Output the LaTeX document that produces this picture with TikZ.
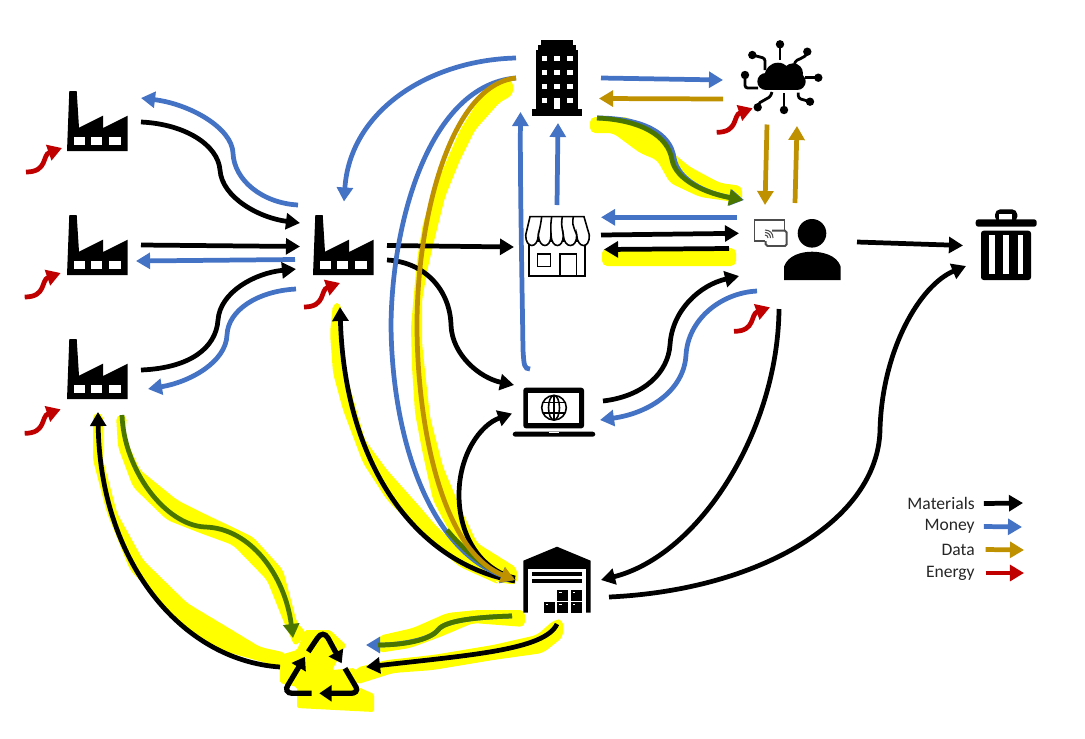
\documentclass[tikz,border=0pt]{standalone}
\usepackage{fontspec}
\setmainfont{Carlito}
\usetikzlibrary{arrows.meta}
\definecolor{matblack}{HTML}{000000}
\definecolor{moneyblue}{HTML}{4472C4}
\definecolor{datagold}{HTML}{BF9000}
\definecolor{energyred}{HTML}{C00000}
\definecolor{hlyellow}{HTML}{FFFF00}
\definecolor{hlgreen}{HTML}{4A7600}
\tikzset{
  flow/.style={line width=2.7pt, -{Triangle[length=8pt,width=9pt]}},
  materials/.style={flow, draw=matblack},
  money/.style={flow, draw=moneyblue},
  data/.style={flow, draw=datagold},
  energy/.style={flow, draw=energyred},
  moneyhl/.style={flow, draw=hlgreen},
  moneyline/.style={line width=2.7pt, draw=hlgreen},
  hlight/.style={fill=hlyellow, rounded corners=3pt},
  iconbox/.style={inner sep=0pt, minimum size=1.2cm},
  legendtext/.style={font=\fontsize{10}{12}\selectfont, text=black!85, anchor=east, inner sep=0pt},
  factory/.pic={
    \fill (-30,30) -- (-27.7,-30) -- (-20.3,-30) -- (-18,6.7) -- (6,-5.3) -- (6,7) -- (30.7,-5.3) -- (30.7,30) -- cycle;
    \foreach \wx/\wy in {-23/-12.3,-5.7/5.3,12.3/23.7} \fill[white] (\wx,16.3) rectangle (\wy,24.3);
  },
  tower/.pic={
    \fill (-24.7,31.3) rectangle (24.7,37.7);
    \fill (-21.3,-28) rectangle (21.3,31.3);
    \fill (-19,-33) rectangle (19,-28);
    \fill (-16.3,-38) rectangle (16.3,-33);
    \foreach \wx in {-12.5,0.2,12.7} \foreach \wy in {-19.7,-5.5,8.7,22.8} \fill[white] (\wx-2.8,\wy-2.6) rectangle (\wx+2.8,\wy+2.6);
    \fill[white] (-2.6,20.3) rectangle (3,31.3);
  },
  shop/.pic={
    \draw[line width=0.9pt, fill=white] (-28,-5) rectangle (28,30);
    \draw[line width=0.9pt] (-19.7,8) rectangle (-6.3,20.7);
    \draw[line width=0.9pt] (3,8) rectangle (19.7,30);
    \draw[line width=0.9pt, fill=white] (-31.3,-11) -- (-27,-29.3) -- (27,-29.3) -- (32.3,-11)
      .. controls (33,3) and (20.5,3) .. (19.7,-11) .. controls (20,3) and (7,3) .. (6.3,-11)
      .. controls (6.5,3) and (-5.5,3) .. (-6,-11) .. controls (-6,3) and (-18,3) .. (-18.7,-11)
      .. controls (-19,3) and (-31.5,3) .. (-31.3,-11) -- cycle;
    \foreach \ta/\tb in {-15.3/-18.7,-5.3/-6,5.3/6.3,16.3/19.7} \draw[line width=0.9pt] (\ta,-29.3) .. controls (\ta-1,-22) .. (\tb,-11);
  },
  cloudnet/.pic={
    \fill (-1,-2) circle (13.3); \fill (-13.2,3.5) circle (8.5); \fill (18.2,3.5) circle (8.5); \fill (14,-4.7) circle (10);
    \fill (-13.2,0) rectangle (18.2,12);
    \draw[line width=1.6pt, rounded corners=1.5pt] (1,-33.7) -- (1,-18);
    \draw[line width=1.6pt, rounded corners=1.5pt] (-26.7,-23) -- (-14,-19.7) -- (-14,-8);
    \draw[line width=1.6pt] (28.3,-26.3) .. controls (27,-18) and (17,-21) .. (15.5,-14);
    \draw[line width=1.6pt] (39.3,-0.3) -- (26,-0.3);
    \draw[line width=1.6pt, rounded corners=1.5pt] (-34,-3) -- (-34,10) -- (-21,10);
    \draw[line width=1.6pt] (-21.3,29.3) .. controls (-20,20) and (-9,24) .. (-7,14);
    \draw[line width=1.6pt] (5,32) -- (5,14.7);
    \draw[line width=1.6pt, rounded corners=1.5pt] (31,23.7) -- (19.3,20.3) -- (19.3,14.7);
    \foreach \dx/\dy in {1/-33.7,-26.7/-23,28.3/-26.3,39.3/-0.3,-34/-3,-21.3/29.3,5/32,31/23.7} \fill (\dx,\dy) circle (4.2);
  },
  person/.pic={
    \fill (0,-22.7) circle (14.3);
    \fill (-28,24) -- (-28,10.7) .. controls (-24,-1) and (-10,-4.3) .. (0,-4.3) .. controls (10,-4.3) and (25,-1) .. (28.7,10.7) -- (28.7,24) -- cycle;
    \draw[black!70, line width=1.1pt] (-27.5,-26) -- (-27.5,-36) -- (-57.5,-36) -- (-57.5,-15) -- (-47,-15);
    \draw[black!70, line width=1.1pt, rounded corners=1pt] (-40,-25.3) -- (-25.3,-25.3) -- (-25.3,-10) -- (-46.3,-10) -- (-46.3,-15);
    \foreach \wr in {3,5.5,8} \draw[black!70, line width=0.6pt] (-47,-18-\wr) .. controls (-47+0.6*\wr,-18-\wr) and (-47+\wr,-18-0.6*\wr) .. (-47+\wr,-18);
  },
  laptop/.pic={
    \fill[rounded corners=1.5pt] (-30.7,-24.3) rectangle (30,16.3);
    \fill[white] (-25.7,-19.3) rectangle (25.3,11.3);
    \fill[rounded corners=1.5pt] (-41.3,19.7) rectangle (41.3,24.7);
    \fill[white] (-5,19.7) rectangle (5,21);
    \draw[line width=0.9pt] (0,-4.3) circle (12.3);
    \draw[line width=0.9pt] (0,-4.3) ellipse (5.5 and 12.3);
    \draw[line width=0.9pt] (0,-16.6) -- (0,8);
    \draw[line width=0.9pt] (-11,-9.5) -- (11,-9.5); \draw[line width=0.9pt] (-11,1) -- (11,1);
  },
  warehouse/.pic={
    \fill (0,-33.3) -- (33.7,-19.3) -- (33.7,32.7) -- (-33.7,32.7) -- (-33.7,-19.3) -- cycle;
    \fill[white] (-28.7,-10.7) rectangle (29,32.7);
    \fill (-25,-7.7) rectangle (25.3,-4); \fill (-25,-0.7) rectangle (25.3,2.7);
    \foreach \bx/\by/\bw in {0.3/10/11,13.7/10/11.6,-13.3/22/11.3,0.3/22/11,13.7/22/11.6} {
      \fill (\bx,\by) rectangle (\bx+\bw,\by+10.7);
      \fill[white] (\bx+2,\by+1.5) rectangle (\bx+4.5,\by+3);
    }
  },
  recycle/.pic={
    \draw[line width=3pt, -{Triangle[length=7pt,width=9pt]}] (-13.7,-18.3) -- (-4.5,-32) .. controls (-1,-37) and (3,-37) .. (6,-32) -- (19.7,-6.7);
    \draw[line width=3pt, -{Triangle[length=7pt,width=9pt]}] (-10.3,23.3) -- (-30,23.3) .. controls (-35,23.3) and (-37,19) .. (-34,15) -- (-17,-13.3);
    \draw[line width=3pt, -{Triangle[length=7pt,width=9pt]}] (23,-1.7) -- (34,17) .. controls (36,21) and (33,23.3) .. (29,23.3) -- (-2.7,23.3);
  },
  trashbin/.pic={
    \fill[rounded corners=3pt] (-11,-23) -- (-11,-35.7) -- (11.3,-35.7) -- (11.3,-23) -- cycle;
    \fill[white] (-6.7,-31) rectangle (6,-25);
    \fill[rounded corners=1.5pt] (-30.3,-25.7) rectangle (30.7,-18.3);
    \fill[rounded corners=1.5pt] (-25,-14.3) rectangle (25,35);
    \foreach \sx in {-16.7,-2.7,11.7} \fill[white] (\sx,-10) rectangle (\sx+5.6,29.3);
  }
}
\begin{document}
\begin{tikzpicture}[x=0.02cm, y=-0.02cm]
\useasboundingbox (0,0) rectangle (1085,738);
% highlighter strokes
\fill[hlight] (513,80) -- (513,95) -- (500,102) -- (475,130) -- (460,160) -- (445,197) -- (435,237) -- (428,267) -- (422,300) -- (422,343) -- (430,417) -- (443,467) -- (460,507) -- (477,543) -- (517,568) -- (517,585) -- (497,582) -- (467,560) -- (447,527) -- (433,500) -- (422,450) -- (415,413) -- (412,367) -- (411,327) -- (417,260) -- (423,223) -- (437,183) -- (460,130) -- (483,93) -- (503,78) -- cycle;
\fill[hlight] (333,303) -- (341,303) -- (345,370) -- (365,440) -- (387,470) -- (420,507) -- (437,527) -- (470,557) -- (500,585) -- (460,567) -- (420,533) -- (387,500) -- (363,463) -- (343,410) -- (333,373) -- (330,333) -- cycle;
\fill[hlight] (116,415) -- (127,415) -- (125,437) -- (140,470) -- (177,500) -- (207,515) -- (253,537) -- (283,570) -- (297,623) -- (307,633) -- (295,647) -- (283,620) -- (267,580) -- (233,545) -- (200,533) -- (167,520) -- (133,487) -- (118,447) -- cycle;
\fill[hlight] (93,413) -- (103,413) -- (103,460) -- (117,513) -- (143,560) -- (187,603) -- (227,627) -- (260,647) -- (287,653) -- (280,667) -- (220,650) -- (180,623) -- (130,570) -- (107,513) -- (93,460) -- cycle;
\fill[hlight, rounded corners=1pt] (280,655) -- (297,650) -- (305,630) -- (330,630) -- (346,645) -- (332,670) -- (355,668) -- (358,687) -- (374,694) -- (374,712) -- (297,708) -- (297,687) -- (280,683) -- cycle;
\fill[hlight] (554,620) -- (563,619) -- (563,637) -- (543,653) -- (493,660) -- (433,670) -- (393,673) -- (355,685) -- (355,668) -- (387,660) -- (433,655) -- (493,645) -- (537,635) -- cycle;
\fill[hlight] (525,610) -- (525,627) -- (473,623) -- (440,637) -- (410,648) -- (378,653) -- (378,636) -- (413,628) -- (447,613) -- (477,610) -- cycle;
\fill[hlight] (590,117) -- (590,133) -- (613,133) -- (640,153) -- (657,160) -- (670,183) -- (700,197) -- (742,203) -- (742,186) -- (720,183) -- (690,167) -- (673,153) -- (650,130) -- (627,117) -- cycle;
\fill[hlight] (602,248) -- (602,266) -- (736,266) -- (736,248) -- cycle;
% icons
\foreach \name/\x/\y in {fa/97/121,fb/97/245,fc/97/369,fd/343/245} {\node[iconbox] (\name) at (\x,\y) {}; \pic at (\name) {factory};}
\node[iconbox] (tw) at (557,78) {}; \pic at (tw) {tower};
\node[iconbox] (sh) at (557,246) {}; \pic at (sh) {shop};
\node[iconbox] (cl) at (779,78) {}; \pic at (cl) {cloudnet};
\node[iconbox] (pe) at (812,256) {}; \pic at (pe) {person};
\node[iconbox] (la) at (554,412) {}; \pic at (la) {laptop};
\node[iconbox] (wh) at (557,580) {}; \pic at (wh) {warehouse};
\node[iconbox] (re) at (322,670) {}; \pic at (re) {recycle};
\node[iconbox] (tr) at (1006,245) {}; \pic at (tr) {trashbin};
% materials
\draw[materials] ([shift={(44,1)}]fa.center) .. controls (185,124) and (218,145) .. (220,170) .. controls (222,198) and (260,218) .. ([shift={(-43,-22)}]fd.center);
\draw[materials] ([shift={(44,0)}]fb.center) -- ([shift={(-43,1.5)}]fd.center);
\draw[materials] ([shift={(44,1)}]fc.center) .. controls (190,368) and (216,348) .. (218,320) .. controls (220,292) and (255,273) .. ([shift={(-47,24)}]fd.center);
\draw[materials] ([shift={(44,0.5)}]fd.center) -- ([shift={(-43,1)}]sh.center);
\draw[materials] ([shift={(44,15)}]fd.center) .. controls (425,262) and (450,290) .. (451,325) .. controls (452,355) and (480,378) .. ([shift={(-40,-27)}]la.center);
\draw[materials] ([shift={(-42,-2)}]wh.center) .. controls (480,570) and (459,535) .. (459,495) .. controls (459,455) and (480,425) .. ([shift={(-42,1.5)}]la.center);
\draw[materials] ([shift={(-42,1)}]wh.center) .. controls (420,565) and (345,470) .. ([shift={(-3,62)}]fd.center);
\draw[materials] ([shift={(44,-11)}]sh.center) -- ([shift={(-73,-22.7)}]pe.center);
\draw[materials] ([shift={(-83,-7.5)}]pe.center) -- ([shift={(47,3.5)}]sh.center);
\draw[materials] ([shift={(49,-11)}]la.center) .. controls (645,396) and (668,372) .. (670,345) .. controls (672,310) and (700,285) .. ([shift={(-73,20)}]pe.center);
\draw[materials] ([shift={(-33,53)}]pe.center) .. controls (778,430) and (700,555) .. ([shift={(44,0)}]wh.center);
\draw[materials] ([shift={(45,-14)}]pe.center) -- ([shift={(-43,0.5)}]tr.center);
\draw[materials] ([shift={(52,17)}]wh.center) .. controls (760,590) and (878,520) .. (880,430) .. controls (882,350) and (920,285) .. ([shift={(-40,21)}]tr.center);
\draw[materials] ([shift={(0,44)}]wh.center) .. controls (545,650) and (470,655) .. ([shift={(44,-3)}]re.center);
\draw[materials] ([shift={(-42,-3)}]re.center) .. controls (180,660) and (100,560) .. ([shift={(1,43)}]fc.center);
% money
\draw[money] ([shift={(-45,-40)}]fd.center) .. controls (262,203) and (234,180) .. (233,153) .. controls (232,128) and (190,104) .. ([shift={(44,-23)}]fa.center);
\draw[money] ([shift={(-48,14.5)}]fd.center) -- ([shift={(39,16)}]fb.center);
\draw[money] ([shift={(-47,44)}]fd.center) .. controls (258,291) and (228,310) .. (227,335) .. controls (226,362) and (190,382) .. ([shift={(51,20)}]fc.center);
\draw[money] ([shift={(-41,-20)}]tw.center) .. controls (430,60) and (350,110) .. ([shift={(1,-43.5)}]fd.center);
\draw[money] ([shift={(-41,0)}]tw.center) .. controls (430,85) and (392,220) .. (391,325) .. controls (392,440) and (430,550) .. ([shift={(-42,0)}]wh.center);
\draw[moneyline] (447,530) .. controls (468,555) and (490,572) .. ([shift={(-44,-1)}]wh.center);
\draw[money] ([shift={(0,-41)}]sh.center) -- ([shift={(1,45)}]tw.center);
\draw[money] ([shift={(-24,-43)}]la.center) .. controls (524,369) and (524,365) .. (523,350) .. controls (522,280) and (520,180) .. ([shift={(-36.5,34)}]tw.center);
\draw[money] ([shift={(44,0)}]tw.center) -- ([shift={(-56,2)}]cl.center);
\draw[money] ([shift={(-75,-38.7)}]pe.center) -- ([shift={(44,-28.7)}]sh.center);
\draw[money] ([shift={(-55,35)}]pe.center) .. controls (720,293) and (688,320) .. (686,355) .. controls (684,390) and (650,413) .. ([shift={(46,8)}]la.center);
\draw[money] ([shift={(40,40)}]tw.center) .. controls (642,118) and (671,133) .. (674,158) .. controls (678,180) and (705,193) .. ([shift={(-68,-56)}]pe.center);
\draw[moneyhl] ([shift={(40,40)}]tw.center) .. controls (640,120) and (668,135) .. (672,160) .. controls (676,180) and (705,193) .. ([shift={(-69,-56)}]pe.center);
\draw[money] ([shift={(-45,36)}]wh.center) .. controls (480,617) and (445,620) .. (438,630) .. controls (430,640) and (400,645) .. ([shift={(44,-25)}]re.center);
\draw[moneyline] ([shift={(-45,36)}]wh.center) .. controls (480,617) and (445,620) .. (438,630) .. controls (430,640) and (405,645) .. ([shift={(56,-25)}]re.center);
\draw[moneyhl] ([shift={(25,46)}]fc.center) .. controls (124,470) and (165,525) .. (205,527) .. controls (250,528) and (285,575) .. ([shift={(-29,-32)}]re.center);
% data
\draw[data] ([shift={(-41,0)}]tw.center) .. controls (450,85) and (417,220) .. (417,325) .. controls (417,420) and (440,550) .. ([shift={(-42,0)}]wh.center);
\draw[data] ([shift={(-56,21)}]cl.center) -- ([shift={(42,20.5)}]tw.center);
\draw[data] ([shift={(-12,46.5)}]cl.center) -- ([shift={(-47,-51)}]pe.center);
\draw[data] ([shift={(-17,-53)}]pe.center) -- ([shift={(18,48)}]cl.center);
% energy
\foreach \name/\dx/\dy in {fa/-35/27,fb/-36.3/28,fc/-36.3/40.3,fd/-3/38,cl/-26.3/30.3,pe/-42/51.3} {
  \coordinate (\name-src) at ([shift={(\dx-36,\dy+24)}]\name.center);
  \draw[energy] (\name-src) .. controls +(22,0) and +(-20,7) .. ([shift={(\dx,\dy)}]\name.center);
}
% legend
\node[legendtext] (lmat) at (975,503.5) {Materials}; \coordinate (lmat-end) at (1023,503);
\node[legendtext] (lmon) at (975,526.5) {Money}; \coordinate (lmon-end) at (1022,527);
\node[legendtext] (ldat) at (975,549.5) {Data}; \coordinate (ldat-end) at (1024,550);
\node[legendtext] (lene) at (975,573) {Energy}; \coordinate (lene-end) at (1024,573);
\draw[materials] ([xshift=5pt]lmat.east) -- (lmat-end);
\draw[money] ([xshift=5pt]lmon.east) -- (lmon-end);
\draw[data] ([xshift=6pt]ldat.east) -- (ldat-end);
\draw[energy] ([xshift=6pt]lene.east) -- (lene-end);
\end{tikzpicture}
\end{document}
